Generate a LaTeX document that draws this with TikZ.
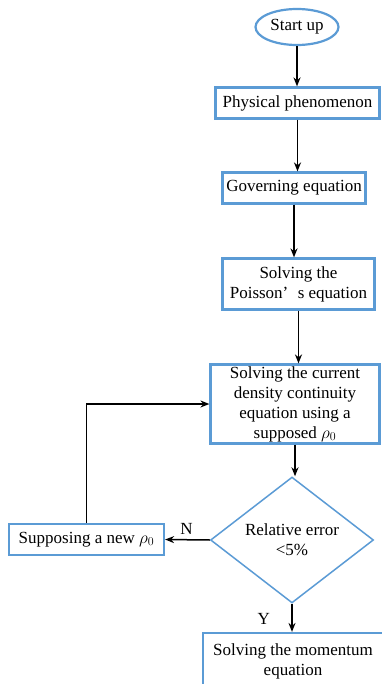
\documentclass[tikz,border=0pt]{standalone}
\usepackage{amsmath,amssymb}
\usepackage{fontspec}
\setmainfont{Liberation Serif}
\usepackage{xcolor}
\usepackage{tikz}
\usetikzlibrary{shapes.geometric,arrows.meta}
\definecolor{boxblue}{HTML}{5B9BD5}
\tikzset{
  stepbox/.style={draw=boxblue, line width=2.2pt, fill=white, align=center,
    inner sep=0pt, font=\fontsize{17}{20}\selectfont},
  flowarrow/.style={-{Stealth[length=9pt,width=7pt]}, line width=1.5pt, black}
}

\begin{document}
\begin{tikzpicture}[x=1pt, y=-1pt]

\useasboundingbox (0,0) rectangle (381,684);

\node[stepbox, ellipse, minimum width=83pt, minimum height=36pt]
  (start) at (297,27) {Start up};
\node[stepbox, minimum width=164pt, minimum height=31pt]
  (phys) at (297.5,103) {Physical phenomenon};
\node[stepbox, minimum width=143pt, minimum height=31pt]
  (gov) at (294,188) {Governing equation};
\node[stepbox, minimum width=152pt, minimum height=51pt]
  (pois) at (298.5,284) {Solving the\\Poisson’\hspace{0.55em}s equation};
\node[stepbox, minimum width=169pt, minimum height=79pt]
  (cur) at (295,404) {Solving the current\\density continuity\\equation using a\\supposed $\rho_0$};
\node[stepbox, diamond, line width=1.5pt, minimum width=163pt, minimum height=79pt]
  (err) at (292,540) {Relative error\\{<}5\%};
\node[stepbox, minimum width=155pt, minimum height=31pt]
  (newrho) at (86.5,539.5) {Supposing a new $\rho_0$};
\node[stepbox, minimum width=180pt, minimum height=56pt]
  (mom) at (293,661) {Solving the momentum\\equation};

\draw[flowarrow] (start) -- (start |- phys.north);
\draw[flowarrow] (phys) -- (phys |- gov.north);
\draw[flowarrow] (gov) -- (gov |- pois.north);
\draw[flowarrow] (pois) -- (pois |- cur.north);
\draw[flowarrow] (cur) -- (cur |- err.north);
\draw[flowarrow] (err.west) -- node[pos=0.52, above=1pt, font=\fontsize{17}{20}\selectfont] {N} (newrho.east);
\draw[flowarrow] (err.south) -- node[pos=0.55, left=18pt, font=\fontsize{17}{20}\selectfont] {Y} (err.south |- mom.north);
\draw[flowarrow] (newrho.north) |- (cur.west);

\end{tikzpicture}
\end{document}
